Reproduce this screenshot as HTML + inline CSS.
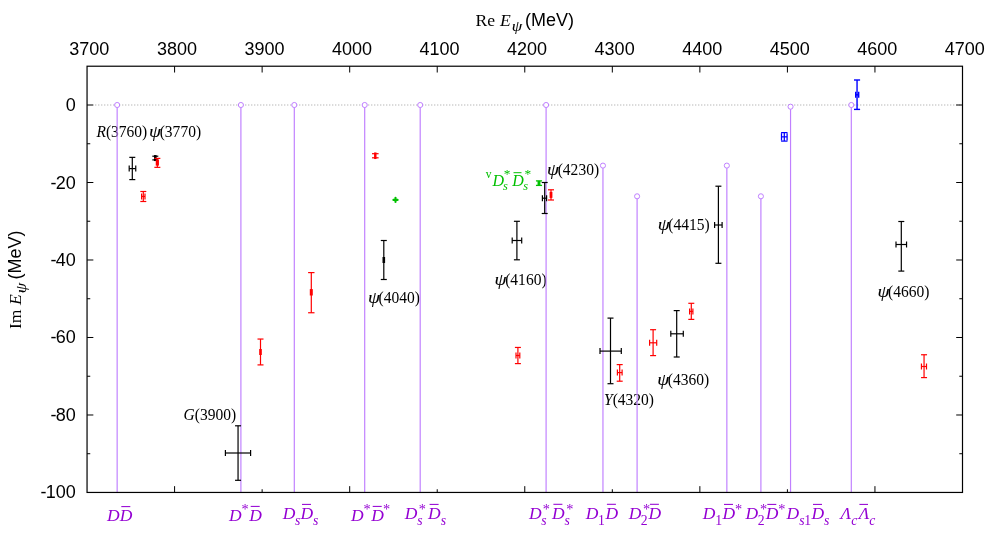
<!DOCTYPE html>
<html lang="en">
<head>
<meta charset="utf-8">
<title>Pole positions of vector charmonium(-like) states</title>
<style>
html, body { margin: 0; padding: 0; background: #ffffff; }
body { width: 987px; height: 536px; overflow: hidden; font-family: "Liberation Sans", sans-serif; }
svg { display: block; will-change: transform; }
text { white-space: pre; }
</style>
</head>
<body>
<svg width="987" height="536" viewBox="0 0 987 536">
<rect x="0" y="0" width="987" height="536" fill="#ffffff"/>
<text transform="translate(96.40 136.60) scale(0.958 1)" font-family='"Liberation Serif", serif' font-size="16.2" fill="#000000"><tspan font-style="italic">R</tspan>(3760)</text>
<text transform="translate(149.10 136.60) scale(1.17 1)" font-family='"Liberation Serif", serif' font-style="italic" font-size="16.6" fill="#000000" stroke="#000000" stroke-width="0.08">ψ</text>
<text transform="translate(159.70 136.60) scale(0.958 1)" font-family='"Liberation Serif", serif' font-size="16.2" fill="#000000">(3770)</text>
<text transform="translate(183.50 420.20) scale(0.958 1)" font-family='"Liberation Serif", serif' font-size="16.2" fill="#000000"><tspan font-style="italic">G</tspan>(3900)</text>
<text transform="translate(367.90 303.40) scale(1.17 1)" font-family='"Liberation Serif", serif' font-style="italic" font-size="16.6" fill="#000000" stroke="#000000" stroke-width="0.08">ψ</text>
<text transform="translate(378.50 303.40) scale(0.958 1)" font-family='"Liberation Serif", serif' font-size="16.2" fill="#000000">(4040)</text>
<text transform="translate(494.60 285.10) scale(1.17 1)" font-family='"Liberation Serif", serif' font-style="italic" font-size="16.6" fill="#000000" stroke="#000000" stroke-width="0.08">ψ</text>
<text transform="translate(505.20 285.10) scale(0.958 1)" font-family='"Liberation Serif", serif' font-size="16.2" fill="#000000">(4160)</text>
<text transform="translate(547.10 175.20) scale(1.17 1)" font-family='"Liberation Serif", serif' font-style="italic" font-size="16.6" fill="#000000" stroke="#000000" stroke-width="0.08">ψ</text>
<text transform="translate(557.70 175.20) scale(0.958 1)" font-family='"Liberation Serif", serif' font-size="16.2" fill="#000000">(4230)</text>
<text transform="translate(604.00 404.70) scale(0.958 1)" font-family='"Liberation Serif", serif' font-size="16.2" fill="#000000"><tspan font-style="italic">Y</tspan>(4320)</text>
<text transform="translate(657.20 385.10) scale(1.17 1)" font-family='"Liberation Serif", serif' font-style="italic" font-size="16.6" fill="#000000" stroke="#000000" stroke-width="0.08">ψ</text>
<text transform="translate(667.80 385.10) scale(0.958 1)" font-family='"Liberation Serif", serif' font-size="16.2" fill="#000000">(4360)</text>
<text transform="translate(657.70 230.40) scale(1.17 1)" font-family='"Liberation Serif", serif' font-style="italic" font-size="16.6" fill="#000000" stroke="#000000" stroke-width="0.08">ψ</text>
<text transform="translate(668.30 230.40) scale(0.958 1)" font-family='"Liberation Serif", serif' font-size="16.2" fill="#000000">(4415)</text>
<text transform="translate(877.50 296.70) scale(1.17 1)" font-family='"Liberation Serif", serif' font-style="italic" font-size="16.6" fill="#000000" stroke="#000000" stroke-width="0.08">ψ</text>
<text transform="translate(888.10 296.70) scale(0.958 1)" font-family='"Liberation Serif", serif' font-size="16.2" fill="#000000">(4660)</text>
<line x1="95.05" y1="105.00" x2="962.50" y2="105.00" stroke="#b4b4b4" stroke-width="1.1" stroke-dasharray="1.3 1.7"/>
<line x1="117.15" y1="105.00" x2="117.15" y2="492.45" stroke="#c080ff" stroke-width="1.18" />
<line x1="240.90" y1="105.00" x2="240.90" y2="492.45" stroke="#c080ff" stroke-width="1.18" />
<line x1="294.30" y1="105.00" x2="294.30" y2="492.45" stroke="#c080ff" stroke-width="1.18" />
<line x1="364.70" y1="105.00" x2="364.70" y2="492.45" stroke="#c080ff" stroke-width="1.18" />
<line x1="420.20" y1="105.00" x2="420.20" y2="492.45" stroke="#c080ff" stroke-width="1.18" />
<line x1="546.10" y1="105.00" x2="546.10" y2="492.45" stroke="#c080ff" stroke-width="1.18" />
<line x1="602.95" y1="165.60" x2="602.95" y2="492.45" stroke="#c080ff" stroke-width="1.18" />
<line x1="637.10" y1="196.30" x2="637.10" y2="492.45" stroke="#c080ff" stroke-width="1.18" />
<line x1="726.85" y1="165.60" x2="726.85" y2="492.45" stroke="#c080ff" stroke-width="1.18" />
<line x1="760.90" y1="196.30" x2="760.90" y2="492.45" stroke="#c080ff" stroke-width="1.18" />
<line x1="790.55" y1="106.70" x2="790.55" y2="492.45" stroke="#c080ff" stroke-width="1.18" />
<line x1="851.30" y1="105.00" x2="851.30" y2="492.45" stroke="#c080ff" stroke-width="1.18" />
<circle cx="117.15" cy="105.00" r="2.55" fill="#ffffff" stroke="#c080ff" stroke-width="1"/>
<circle cx="240.90" cy="105.00" r="2.55" fill="#ffffff" stroke="#c080ff" stroke-width="1"/>
<circle cx="294.30" cy="105.00" r="2.55" fill="#ffffff" stroke="#c080ff" stroke-width="1"/>
<circle cx="364.70" cy="105.00" r="2.55" fill="#ffffff" stroke="#c080ff" stroke-width="1"/>
<circle cx="420.20" cy="105.00" r="2.55" fill="#ffffff" stroke="#c080ff" stroke-width="1"/>
<circle cx="546.10" cy="105.00" r="2.55" fill="#ffffff" stroke="#c080ff" stroke-width="1"/>
<circle cx="602.95" cy="165.60" r="2.55" fill="#ffffff" stroke="#c080ff" stroke-width="1"/>
<circle cx="637.10" cy="196.30" r="2.55" fill="#ffffff" stroke="#c080ff" stroke-width="1"/>
<circle cx="726.85" cy="165.60" r="2.55" fill="#ffffff" stroke="#c080ff" stroke-width="1"/>
<circle cx="760.90" cy="196.30" r="2.55" fill="#ffffff" stroke="#c080ff" stroke-width="1"/>
<circle cx="790.55" cy="106.70" r="2.55" fill="#ffffff" stroke="#c080ff" stroke-width="1"/>
<circle cx="851.30" cy="105.00" r="2.55" fill="#ffffff" stroke="#c080ff" stroke-width="1"/>
<line x1="132.30" y1="157.35" x2="132.30" y2="179.60" stroke="#000000" stroke-width="1.2" />
<line x1="129.30" y1="157.35" x2="135.30" y2="157.35" stroke="#000000" stroke-width="1.2" />
<line x1="129.30" y1="179.60" x2="135.30" y2="179.60" stroke="#000000" stroke-width="1.2" />
<line x1="129.20" y1="168.60" x2="135.75" y2="168.60" stroke="#000000" stroke-width="1.2" />
<line x1="129.20" y1="165.60" x2="129.20" y2="171.60" stroke="#000000" stroke-width="1.2" />
<line x1="135.75" y1="165.60" x2="135.75" y2="171.60" stroke="#000000" stroke-width="1.2" />
<line x1="155.30" y1="156.20" x2="155.30" y2="159.90" stroke="#000000" stroke-width="1.2" />
<line x1="152.30" y1="156.20" x2="158.30" y2="156.20" stroke="#000000" stroke-width="1.2" />
<line x1="152.30" y1="159.90" x2="158.30" y2="159.90" stroke="#000000" stroke-width="1.2" />
<line x1="155.30" y1="155.05" x2="155.30" y2="161.05" stroke="#000000" stroke-width="2.6" />
<line x1="238.05" y1="425.80" x2="238.05" y2="480.30" stroke="#000000" stroke-width="1.2" />
<line x1="235.05" y1="425.80" x2="241.05" y2="425.80" stroke="#000000" stroke-width="1.2" />
<line x1="235.05" y1="480.30" x2="241.05" y2="480.30" stroke="#000000" stroke-width="1.2" />
<line x1="225.40" y1="453.00" x2="250.60" y2="453.00" stroke="#000000" stroke-width="1.2" />
<line x1="225.40" y1="450.00" x2="225.40" y2="456.00" stroke="#000000" stroke-width="1.2" />
<line x1="250.60" y1="450.00" x2="250.60" y2="456.00" stroke="#000000" stroke-width="1.2" />
<line x1="383.80" y1="240.50" x2="383.80" y2="279.50" stroke="#000000" stroke-width="1.2" />
<line x1="380.80" y1="240.50" x2="386.80" y2="240.50" stroke="#000000" stroke-width="1.2" />
<line x1="380.80" y1="279.50" x2="386.80" y2="279.50" stroke="#000000" stroke-width="1.2" />
<line x1="383.80" y1="257.00" x2="383.80" y2="263.00" stroke="#000000" stroke-width="2.6" />
<line x1="516.90" y1="221.30" x2="516.90" y2="259.80" stroke="#000000" stroke-width="1.2" />
<line x1="513.90" y1="221.30" x2="519.90" y2="221.30" stroke="#000000" stroke-width="1.2" />
<line x1="513.90" y1="259.80" x2="519.90" y2="259.80" stroke="#000000" stroke-width="1.2" />
<line x1="512.20" y1="240.50" x2="521.70" y2="240.50" stroke="#000000" stroke-width="1.2" />
<line x1="512.20" y1="237.50" x2="512.20" y2="243.50" stroke="#000000" stroke-width="1.2" />
<line x1="521.70" y1="237.50" x2="521.70" y2="243.50" stroke="#000000" stroke-width="1.2" />
<line x1="544.70" y1="182.50" x2="544.70" y2="213.50" stroke="#000000" stroke-width="1.2" />
<line x1="541.70" y1="182.50" x2="547.70" y2="182.50" stroke="#000000" stroke-width="1.2" />
<line x1="541.70" y1="213.50" x2="547.70" y2="213.50" stroke="#000000" stroke-width="1.2" />
<line x1="542.40" y1="198.20" x2="546.60" y2="198.20" stroke="#000000" stroke-width="1.2" />
<line x1="542.40" y1="195.20" x2="542.40" y2="201.20" stroke="#000000" stroke-width="1.2" />
<line x1="546.60" y1="195.20" x2="546.60" y2="201.20" stroke="#000000" stroke-width="1.2" />
<line x1="610.50" y1="318.10" x2="610.50" y2="383.70" stroke="#000000" stroke-width="1.2" />
<line x1="607.50" y1="318.10" x2="613.50" y2="318.10" stroke="#000000" stroke-width="1.2" />
<line x1="607.50" y1="383.70" x2="613.50" y2="383.70" stroke="#000000" stroke-width="1.2" />
<line x1="600.00" y1="351.10" x2="621.30" y2="351.10" stroke="#000000" stroke-width="1.2" />
<line x1="600.00" y1="348.10" x2="600.00" y2="354.10" stroke="#000000" stroke-width="1.2" />
<line x1="621.30" y1="348.10" x2="621.30" y2="354.10" stroke="#000000" stroke-width="1.2" />
<line x1="676.70" y1="310.60" x2="676.70" y2="357.00" stroke="#000000" stroke-width="1.2" />
<line x1="673.70" y1="310.60" x2="679.70" y2="310.60" stroke="#000000" stroke-width="1.2" />
<line x1="673.70" y1="357.00" x2="679.70" y2="357.00" stroke="#000000" stroke-width="1.2" />
<line x1="670.80" y1="333.80" x2="683.30" y2="333.80" stroke="#000000" stroke-width="1.2" />
<line x1="670.80" y1="330.80" x2="670.80" y2="336.80" stroke="#000000" stroke-width="1.2" />
<line x1="683.30" y1="330.80" x2="683.30" y2="336.80" stroke="#000000" stroke-width="1.2" />
<line x1="718.40" y1="186.20" x2="718.40" y2="263.30" stroke="#000000" stroke-width="1.2" />
<line x1="715.40" y1="186.20" x2="721.40" y2="186.20" stroke="#000000" stroke-width="1.2" />
<line x1="715.40" y1="263.30" x2="721.40" y2="263.30" stroke="#000000" stroke-width="1.2" />
<line x1="714.60" y1="225.00" x2="722.10" y2="225.00" stroke="#000000" stroke-width="1.2" />
<line x1="714.60" y1="222.00" x2="714.60" y2="228.00" stroke="#000000" stroke-width="1.2" />
<line x1="722.10" y1="222.00" x2="722.10" y2="228.00" stroke="#000000" stroke-width="1.2" />
<line x1="901.30" y1="221.50" x2="901.30" y2="271.10" stroke="#000000" stroke-width="1.2" />
<line x1="898.30" y1="221.50" x2="904.30" y2="221.50" stroke="#000000" stroke-width="1.2" />
<line x1="898.30" y1="271.10" x2="904.30" y2="271.10" stroke="#000000" stroke-width="1.2" />
<line x1="896.00" y1="244.50" x2="906.55" y2="244.50" stroke="#000000" stroke-width="1.2" />
<line x1="896.00" y1="241.50" x2="896.00" y2="247.50" stroke="#000000" stroke-width="1.2" />
<line x1="906.55" y1="241.50" x2="906.55" y2="247.50" stroke="#000000" stroke-width="1.2" />
<line x1="143.30" y1="191.50" x2="143.30" y2="201.50" stroke="#ff0000" stroke-width="1.2" />
<line x1="140.30" y1="191.50" x2="146.30" y2="191.50" stroke="#ff0000" stroke-width="1.2" />
<line x1="140.30" y1="201.50" x2="146.30" y2="201.50" stroke="#ff0000" stroke-width="1.2" />
<line x1="141.60" y1="196.45" x2="145.00" y2="196.45" stroke="#ff0000" stroke-width="1.2" />
<line x1="141.60" y1="193.45" x2="141.60" y2="199.45" stroke="#ff0000" stroke-width="1.2" />
<line x1="145.00" y1="193.45" x2="145.00" y2="199.45" stroke="#ff0000" stroke-width="1.2" />
<line x1="157.35" y1="158.40" x2="157.35" y2="167.35" stroke="#ff0000" stroke-width="1.2" />
<line x1="154.35" y1="158.40" x2="160.35" y2="158.40" stroke="#ff0000" stroke-width="1.2" />
<line x1="154.35" y1="167.35" x2="160.35" y2="167.35" stroke="#ff0000" stroke-width="1.2" />
<line x1="157.35" y1="159.60" x2="157.35" y2="165.60" stroke="#ff0000" stroke-width="3.2" />
<line x1="260.50" y1="339.05" x2="260.50" y2="364.90" stroke="#ff0000" stroke-width="1.2" />
<line x1="257.50" y1="339.05" x2="263.50" y2="339.05" stroke="#ff0000" stroke-width="1.2" />
<line x1="257.50" y1="364.90" x2="263.50" y2="364.90" stroke="#ff0000" stroke-width="1.2" />
<line x1="260.50" y1="349.00" x2="260.50" y2="355.00" stroke="#ff0000" stroke-width="2.6" />
<line x1="311.30" y1="272.60" x2="311.30" y2="312.75" stroke="#ff0000" stroke-width="1.2" />
<line x1="308.10" y1="272.60" x2="314.50" y2="272.60" stroke="#ff0000" stroke-width="1.2" />
<line x1="308.10" y1="312.75" x2="314.50" y2="312.75" stroke="#ff0000" stroke-width="1.2" />
<line x1="311.30" y1="289.10" x2="311.30" y2="295.50" stroke="#ff0000" stroke-width="3.0" />
<line x1="375.30" y1="153.70" x2="375.30" y2="157.80" stroke="#ff0000" stroke-width="1.2" />
<line x1="372.00" y1="153.70" x2="378.60" y2="153.70" stroke="#ff0000" stroke-width="1.2" />
<line x1="372.00" y1="157.80" x2="378.60" y2="157.80" stroke="#ff0000" stroke-width="1.2" />
<line x1="375.30" y1="152.45" x2="375.30" y2="159.05" stroke="#ff0000" stroke-width="2.4" />
<line x1="517.90" y1="347.45" x2="517.90" y2="363.60" stroke="#ff0000" stroke-width="1.2" />
<line x1="514.90" y1="347.45" x2="520.90" y2="347.45" stroke="#ff0000" stroke-width="1.2" />
<line x1="514.90" y1="363.60" x2="520.90" y2="363.60" stroke="#ff0000" stroke-width="1.2" />
<line x1="516.00" y1="355.50" x2="519.80" y2="355.50" stroke="#ff0000" stroke-width="1.2" />
<line x1="516.00" y1="352.50" x2="516.00" y2="358.50" stroke="#ff0000" stroke-width="1.2" />
<line x1="519.80" y1="352.50" x2="519.80" y2="358.50" stroke="#ff0000" stroke-width="1.2" />
<line x1="551.00" y1="189.80" x2="551.00" y2="200.00" stroke="#ff0000" stroke-width="1.2" />
<line x1="548.00" y1="189.80" x2="554.00" y2="189.80" stroke="#ff0000" stroke-width="1.2" />
<line x1="548.00" y1="200.00" x2="554.00" y2="200.00" stroke="#ff0000" stroke-width="1.2" />
<line x1="551.00" y1="191.90" x2="551.00" y2="197.90" stroke="#ff0000" stroke-width="2.8" />
<line x1="619.70" y1="364.60" x2="619.70" y2="381.20" stroke="#ff0000" stroke-width="1.2" />
<line x1="616.70" y1="364.60" x2="622.70" y2="364.60" stroke="#ff0000" stroke-width="1.2" />
<line x1="616.70" y1="381.20" x2="622.70" y2="381.20" stroke="#ff0000" stroke-width="1.2" />
<line x1="617.40" y1="372.60" x2="622.10" y2="372.60" stroke="#ff0000" stroke-width="1.2" />
<line x1="617.40" y1="369.60" x2="617.40" y2="375.60" stroke="#ff0000" stroke-width="1.2" />
<line x1="622.10" y1="369.60" x2="622.10" y2="375.60" stroke="#ff0000" stroke-width="1.2" />
<line x1="653.10" y1="329.70" x2="653.10" y2="355.60" stroke="#ff0000" stroke-width="1.2" />
<line x1="650.10" y1="329.70" x2="656.10" y2="329.70" stroke="#ff0000" stroke-width="1.2" />
<line x1="650.10" y1="355.60" x2="656.10" y2="355.60" stroke="#ff0000" stroke-width="1.2" />
<line x1="649.60" y1="342.80" x2="656.70" y2="342.80" stroke="#ff0000" stroke-width="1.2" />
<line x1="649.60" y1="339.80" x2="649.60" y2="345.80" stroke="#ff0000" stroke-width="1.2" />
<line x1="656.70" y1="339.80" x2="656.70" y2="345.80" stroke="#ff0000" stroke-width="1.2" />
<line x1="691.30" y1="303.30" x2="691.30" y2="319.40" stroke="#ff0000" stroke-width="1.2" />
<line x1="688.30" y1="303.30" x2="694.30" y2="303.30" stroke="#ff0000" stroke-width="1.2" />
<line x1="688.30" y1="319.40" x2="694.30" y2="319.40" stroke="#ff0000" stroke-width="1.2" />
<line x1="689.60" y1="311.40" x2="692.90" y2="311.40" stroke="#ff0000" stroke-width="1.2" />
<line x1="689.60" y1="308.40" x2="689.60" y2="314.40" stroke="#ff0000" stroke-width="1.2" />
<line x1="692.90" y1="308.40" x2="692.90" y2="314.40" stroke="#ff0000" stroke-width="1.2" />
<line x1="924.05" y1="354.75" x2="924.05" y2="377.60" stroke="#ff0000" stroke-width="1.2" />
<line x1="921.05" y1="354.75" x2="927.05" y2="354.75" stroke="#ff0000" stroke-width="1.2" />
<line x1="921.05" y1="377.60" x2="927.05" y2="377.60" stroke="#ff0000" stroke-width="1.2" />
<line x1="921.45" y1="366.50" x2="926.50" y2="366.50" stroke="#ff0000" stroke-width="1.2" />
<line x1="921.45" y1="363.50" x2="921.45" y2="369.50" stroke="#ff0000" stroke-width="1.2" />
<line x1="926.50" y1="363.50" x2="926.50" y2="369.50" stroke="#ff0000" stroke-width="1.2" />
<line x1="539.00" y1="180.90" x2="539.00" y2="185.40" stroke="#00c000" stroke-width="1.3" />
<line x1="535.95" y1="180.90" x2="542.05" y2="180.90" stroke="#00c000" stroke-width="1.3" />
<line x1="535.95" y1="185.40" x2="542.05" y2="185.40" stroke="#00c000" stroke-width="1.3" />
<line x1="539.00" y1="180.90" x2="539.00" y2="185.40" stroke="#00c000" stroke-width="2.9" />
<line x1="393.40" y1="199.90" x2="397.60" y2="199.90" stroke="#00c000" stroke-width="2.1" stroke-linecap="round"/>
<line x1="395.50" y1="197.80" x2="395.50" y2="202.00" stroke="#00c000" stroke-width="2.1" stroke-linecap="round"/>
<line x1="784.30" y1="132.60" x2="784.30" y2="141.10" stroke="#0000ff" stroke-width="1.25" />
<line x1="781.10" y1="132.60" x2="787.50" y2="132.60" stroke="#0000ff" stroke-width="1.25" />
<line x1="781.10" y1="141.10" x2="787.50" y2="141.10" stroke="#0000ff" stroke-width="1.25" />
<line x1="781.50" y1="136.85" x2="787.10" y2="136.85" stroke="#0000ff" stroke-width="1.25" />
<line x1="781.50" y1="133.15" x2="781.50" y2="140.55" stroke="#0000ff" stroke-width="1.25" />
<line x1="787.10" y1="133.15" x2="787.10" y2="140.55" stroke="#0000ff" stroke-width="1.25" />
<line x1="857.05" y1="80.00" x2="857.05" y2="109.40" stroke="#0000ff" stroke-width="1.4" />
<line x1="854.00" y1="80.00" x2="860.10" y2="80.00" stroke="#0000ff" stroke-width="1.4" />
<line x1="854.00" y1="109.40" x2="860.10" y2="109.40" stroke="#0000ff" stroke-width="1.4" />
<line x1="855.70" y1="94.80" x2="858.70" y2="94.80" stroke="#0000ff" stroke-width="1.4" />
<line x1="855.70" y1="91.75" x2="855.70" y2="97.85" stroke="#0000ff" stroke-width="1.4" />
<line x1="858.70" y1="91.75" x2="858.70" y2="97.85" stroke="#0000ff" stroke-width="1.4" />
<rect x="87.05" y="66.22" width="875.45" height="426.23" fill="none" stroke="#000" stroke-width="1.2"/>
<line x1="174.59" y1="66.22" x2="174.59" y2="72.52" stroke="#000" stroke-width="1.0" />
<line x1="174.59" y1="492.45" x2="174.59" y2="486.15" stroke="#000" stroke-width="1.0" />
<line x1="262.14" y1="66.22" x2="262.14" y2="72.52" stroke="#000" stroke-width="1.0" />
<line x1="262.14" y1="492.45" x2="262.14" y2="489.25" stroke="#000" stroke-width="1.0" />
<line x1="349.69" y1="66.22" x2="349.69" y2="72.52" stroke="#000" stroke-width="1.0" />
<line x1="349.69" y1="492.45" x2="349.69" y2="486.15" stroke="#000" stroke-width="1.0" />
<line x1="437.23" y1="66.22" x2="437.23" y2="72.52" stroke="#000" stroke-width="1.0" />
<line x1="437.23" y1="492.45" x2="437.23" y2="489.25" stroke="#000" stroke-width="1.0" />
<line x1="524.77" y1="66.22" x2="524.77" y2="72.52" stroke="#000" stroke-width="1.0" />
<line x1="524.77" y1="492.45" x2="524.77" y2="486.15" stroke="#000" stroke-width="1.0" />
<line x1="612.32" y1="66.22" x2="612.32" y2="72.52" stroke="#000" stroke-width="1.0" />
<line x1="612.32" y1="492.45" x2="612.32" y2="489.25" stroke="#000" stroke-width="1.0" />
<line x1="699.87" y1="66.22" x2="699.87" y2="72.52" stroke="#000" stroke-width="1.0" />
<line x1="699.87" y1="492.45" x2="699.87" y2="486.15" stroke="#000" stroke-width="1.0" />
<line x1="787.41" y1="66.22" x2="787.41" y2="72.52" stroke="#000" stroke-width="1.0" />
<line x1="787.41" y1="492.45" x2="787.41" y2="489.25" stroke="#000" stroke-width="1.0" />
<line x1="874.95" y1="66.22" x2="874.95" y2="72.52" stroke="#000" stroke-width="1.0" />
<line x1="874.95" y1="492.45" x2="874.95" y2="486.15" stroke="#000" stroke-width="1.0" />
<line x1="87.05" y1="105.00" x2="93.35" y2="105.00" stroke="#000" stroke-width="1.0" />
<line x1="962.50" y1="105.00" x2="956.20" y2="105.00" stroke="#000" stroke-width="1.0" />
<line x1="87.05" y1="143.75" x2="90.25" y2="143.75" stroke="#000" stroke-width="1.0" />
<line x1="962.50" y1="143.75" x2="959.30" y2="143.75" stroke="#000" stroke-width="1.0" />
<line x1="87.05" y1="182.50" x2="93.35" y2="182.50" stroke="#000" stroke-width="1.0" />
<line x1="962.50" y1="182.50" x2="956.20" y2="182.50" stroke="#000" stroke-width="1.0" />
<line x1="87.05" y1="221.24" x2="90.25" y2="221.24" stroke="#000" stroke-width="1.0" />
<line x1="962.50" y1="221.24" x2="959.30" y2="221.24" stroke="#000" stroke-width="1.0" />
<line x1="87.05" y1="259.99" x2="93.35" y2="259.99" stroke="#000" stroke-width="1.0" />
<line x1="962.50" y1="259.99" x2="956.20" y2="259.99" stroke="#000" stroke-width="1.0" />
<line x1="87.05" y1="298.74" x2="90.25" y2="298.74" stroke="#000" stroke-width="1.0" />
<line x1="962.50" y1="298.74" x2="959.30" y2="298.74" stroke="#000" stroke-width="1.0" />
<line x1="87.05" y1="337.49" x2="93.35" y2="337.49" stroke="#000" stroke-width="1.0" />
<line x1="962.50" y1="337.49" x2="956.20" y2="337.49" stroke="#000" stroke-width="1.0" />
<line x1="87.05" y1="376.24" x2="90.25" y2="376.24" stroke="#000" stroke-width="1.0" />
<line x1="962.50" y1="376.24" x2="959.30" y2="376.24" stroke="#000" stroke-width="1.0" />
<line x1="87.05" y1="414.99" x2="93.35" y2="414.99" stroke="#000" stroke-width="1.0" />
<line x1="962.50" y1="414.99" x2="956.20" y2="414.99" stroke="#000" stroke-width="1.0" />
<line x1="87.05" y1="453.73" x2="90.25" y2="453.73" stroke="#000" stroke-width="1.0" />
<line x1="962.50" y1="453.73" x2="959.30" y2="453.73" stroke="#000" stroke-width="1.0" />
<text x="89.35" y="54.6" text-anchor="middle" font-family='"Liberation Sans", sans-serif' font-size="18.0" fill="#000">3700</text>
<text x="176.90" y="54.6" text-anchor="middle" font-family='"Liberation Sans", sans-serif' font-size="18.0" fill="#000">3800</text>
<text x="264.44" y="54.6" text-anchor="middle" font-family='"Liberation Sans", sans-serif' font-size="18.0" fill="#000">3900</text>
<text x="351.99" y="54.6" text-anchor="middle" font-family='"Liberation Sans", sans-serif' font-size="18.0" fill="#000">4000</text>
<text x="439.53" y="54.6" text-anchor="middle" font-family='"Liberation Sans", sans-serif' font-size="18.0" fill="#000">4100</text>
<text x="527.07" y="54.6" text-anchor="middle" font-family='"Liberation Sans", sans-serif' font-size="18.0" fill="#000">4200</text>
<text x="614.62" y="54.6" text-anchor="middle" font-family='"Liberation Sans", sans-serif' font-size="18.0" fill="#000">4300</text>
<text x="702.16" y="54.6" text-anchor="middle" font-family='"Liberation Sans", sans-serif' font-size="18.0" fill="#000">4400</text>
<text x="789.71" y="54.6" text-anchor="middle" font-family='"Liberation Sans", sans-serif' font-size="18.0" fill="#000">4500</text>
<text x="877.25" y="54.6" text-anchor="middle" font-family='"Liberation Sans", sans-serif' font-size="18.0" fill="#000">4600</text>
<text x="964.80" y="54.6" text-anchor="middle" font-family='"Liberation Sans", sans-serif' font-size="18.0" fill="#000">4700</text>
<text x="75.8" y="111.00" text-anchor="end" font-family='"Liberation Sans", sans-serif' font-size="18.0" fill="#000">0</text>
<text x="75.8" y="188.50" text-anchor="end" font-family='"Liberation Sans", sans-serif' font-size="18.0" fill="#000">20</text>
<text x="56.38" y="188.50" text-anchor="end" font-family='"Liberation Sans", sans-serif' font-size="18.0" fill="#000">-</text>
<text x="75.8" y="265.99" text-anchor="end" font-family='"Liberation Sans", sans-serif' font-size="18.0" fill="#000">40</text>
<text x="56.38" y="265.99" text-anchor="end" font-family='"Liberation Sans", sans-serif' font-size="18.0" fill="#000">-</text>
<text x="75.8" y="343.49" text-anchor="end" font-family='"Liberation Sans", sans-serif' font-size="18.0" fill="#000">60</text>
<text x="56.38" y="343.49" text-anchor="end" font-family='"Liberation Sans", sans-serif' font-size="18.0" fill="#000">-</text>
<text x="75.8" y="420.99" text-anchor="end" font-family='"Liberation Sans", sans-serif' font-size="18.0" fill="#000">80</text>
<text x="56.38" y="420.99" text-anchor="end" font-family='"Liberation Sans", sans-serif' font-size="18.0" fill="#000">-</text>
<text x="75.8" y="498.48" text-anchor="end" font-family='"Liberation Sans", sans-serif' font-size="18.0" fill="#000">100</text>
<text x="46.38" y="498.48" text-anchor="end" font-family='"Liberation Sans", sans-serif' font-size="18.0" fill="#000">-</text>
<g transform="translate(475.5 26.0)"><text x="0" y="0" font-family='"Liberation Serif", serif' font-size="17.6" fill="#000">Re</text><text x="24.6" y="0" font-family='"Liberation Serif", serif' font-style="italic" font-size="17.6" fill="#000">E</text><text transform="translate(36.3 5.0) scale(1.15 1)" font-family='"Liberation Serif", serif' font-style="italic" font-size="14.6" fill="#000" stroke="#000" stroke-width="0.08">ψ</text><text x="49.6" y="0" font-family='"Liberation Sans", sans-serif' font-size="18" fill="#000">(MeV)</text></g>
<g transform="translate(20.5 329.0) rotate(-90)"><text x="0" y="0" font-family='"Liberation Serif", serif' font-size="17.6" fill="#000">Im</text><text x="23.9" y="0" font-family='"Liberation Serif", serif' font-style="italic" font-size="17.6" fill="#000">E</text><text transform="translate(35.8 5.0) scale(1.15 1)" font-family='"Liberation Serif", serif' font-style="italic" font-size="14.6" fill="#000" stroke="#000" stroke-width="0.08">ψ</text><text x="49.4" y="0" font-family='"Liberation Sans", sans-serif' font-size="18" fill="#000">(MeV)</text></g>
<text x="106.89" y="520.80" font-family='"Liberation Serif", serif' font-style="italic" font-size="17.5" fill="#9400d3">D</text>
<text x="119.79" y="520.80" font-family='"Liberation Serif", serif' font-style="italic" font-size="17.5" fill="#9400d3">D</text>
<line x1="121.30" y1="506.60" x2="130.30" y2="506.60" stroke="#9400d3" stroke-width="1.05" />
<text x="229.09" y="520.60" font-family='"Liberation Serif", serif' font-style="italic" font-size="17.5" fill="#9400d3">D</text>
<text x="241.40" y="513.90" font-family='"Liberation Serif", serif' font-style="normal" font-size="14.3" fill="#9400d3">*</text>
<text x="249.19" y="520.60" font-family='"Liberation Serif", serif' font-style="italic" font-size="17.5" fill="#9400d3">D</text>
<line x1="250.70" y1="506.40" x2="259.70" y2="506.40" stroke="#9400d3" stroke-width="1.05" />
<text x="282.69" y="518.60" font-family='"Liberation Serif", serif' font-style="italic" font-size="17.5" fill="#9400d3">D</text>
<text x="294.94" y="524.90" font-family='"Liberation Serif", serif' font-style="italic" font-size="13.7" fill="#9400d3">s</text>
<text x="300.49" y="518.60" font-family='"Liberation Serif", serif' font-style="italic" font-size="17.5" fill="#9400d3">D</text>
<line x1="302.00" y1="504.40" x2="311.00" y2="504.40" stroke="#9400d3" stroke-width="1.05" />
<text x="313.04" y="524.90" font-family='"Liberation Serif", serif' font-style="italic" font-size="13.7" fill="#9400d3">s</text>
<text x="351.09" y="520.60" font-family='"Liberation Serif", serif' font-style="italic" font-size="17.5" fill="#9400d3">D</text>
<text x="363.60" y="513.90" font-family='"Liberation Serif", serif' font-style="normal" font-size="14.3" fill="#9400d3">*</text>
<text x="371.19" y="520.60" font-family='"Liberation Serif", serif' font-style="italic" font-size="17.5" fill="#9400d3">D</text>
<line x1="372.70" y1="506.40" x2="381.70" y2="506.40" stroke="#9400d3" stroke-width="1.05" />
<text x="383.10" y="513.90" font-family='"Liberation Serif", serif' font-style="normal" font-size="14.3" fill="#9400d3">*</text>
<text x="404.69" y="518.60" font-family='"Liberation Serif", serif' font-style="italic" font-size="17.5" fill="#9400d3">D</text>
<text x="417.14" y="524.90" font-family='"Liberation Serif", serif' font-style="italic" font-size="13.7" fill="#9400d3">s</text>
<text x="418.80" y="513.90" font-family='"Liberation Serif", serif' font-style="normal" font-size="14.3" fill="#9400d3">*</text>
<text x="428.09" y="518.60" font-family='"Liberation Serif", serif' font-style="italic" font-size="17.5" fill="#9400d3">D</text>
<line x1="429.60" y1="504.40" x2="438.60" y2="504.40" stroke="#9400d3" stroke-width="1.05" />
<text x="440.84" y="524.90" font-family='"Liberation Serif", serif' font-style="italic" font-size="13.7" fill="#9400d3">s</text>
<text x="529.09" y="518.50" font-family='"Liberation Serif", serif' font-style="italic" font-size="17.5" fill="#9400d3">D</text>
<text x="541.24" y="524.80" font-family='"Liberation Serif", serif' font-style="italic" font-size="13.7" fill="#9400d3">s</text>
<text x="542.70" y="513.90" font-family='"Liberation Serif", serif' font-style="normal" font-size="14.3" fill="#9400d3">*</text>
<text x="551.89" y="518.50" font-family='"Liberation Serif", serif' font-style="italic" font-size="17.5" fill="#9400d3">D</text>
<line x1="553.40" y1="504.30" x2="562.40" y2="504.30" stroke="#9400d3" stroke-width="1.05" />
<text x="564.44" y="524.80" font-family='"Liberation Serif", serif' font-style="italic" font-size="13.7" fill="#9400d3">s</text>
<text x="566.20" y="513.90" font-family='"Liberation Serif", serif' font-style="normal" font-size="14.3" fill="#9400d3">*</text>
<text x="585.69" y="518.50" font-family='"Liberation Serif", serif' font-style="italic" font-size="17.5" fill="#9400d3">D</text>
<text x="597.89" y="524.80" font-family='"Liberation Serif", serif' font-style="normal" font-size="13.7" fill="#9400d3">1</text>
<text x="605.39" y="518.50" font-family='"Liberation Serif", serif' font-style="italic" font-size="17.5" fill="#9400d3">D</text>
<line x1="606.90" y1="504.30" x2="615.90" y2="504.30" stroke="#9400d3" stroke-width="1.05" />
<text x="628.69" y="518.50" font-family='"Liberation Serif", serif' font-style="italic" font-size="17.5" fill="#9400d3">D</text>
<text x="640.80" y="524.80" font-family='"Liberation Serif", serif' font-style="normal" font-size="13.7" fill="#9400d3">2</text>
<text x="643.00" y="513.90" font-family='"Liberation Serif", serif' font-style="normal" font-size="14.3" fill="#9400d3">*</text>
<text x="648.39" y="518.50" font-family='"Liberation Serif", serif' font-style="italic" font-size="17.5" fill="#9400d3">D</text>
<line x1="649.90" y1="504.30" x2="658.90" y2="504.30" stroke="#9400d3" stroke-width="1.05" />
<text x="702.69" y="518.60" font-family='"Liberation Serif", serif' font-style="italic" font-size="17.5" fill="#9400d3">D</text>
<text x="715.19" y="524.90" font-family='"Liberation Serif", serif' font-style="normal" font-size="13.7" fill="#9400d3">1</text>
<text x="722.49" y="518.60" font-family='"Liberation Serif", serif' font-style="italic" font-size="17.5" fill="#9400d3">D</text>
<line x1="724.00" y1="504.40" x2="733.00" y2="504.40" stroke="#9400d3" stroke-width="1.05" />
<text x="735.10" y="513.90" font-family='"Liberation Serif", serif' font-style="normal" font-size="14.3" fill="#9400d3">*</text>
<text x="745.59" y="518.60" font-family='"Liberation Serif", serif' font-style="italic" font-size="17.5" fill="#9400d3">D</text>
<text x="757.70" y="524.90" font-family='"Liberation Serif", serif' font-style="normal" font-size="13.7" fill="#9400d3">2</text>
<text x="759.90" y="513.90" font-family='"Liberation Serif", serif' font-style="normal" font-size="14.3" fill="#9400d3">*</text>
<text x="765.79" y="518.60" font-family='"Liberation Serif", serif' font-style="italic" font-size="17.5" fill="#9400d3">D</text>
<line x1="767.30" y1="504.40" x2="776.30" y2="504.40" stroke="#9400d3" stroke-width="1.05" />
<text x="778.20" y="513.90" font-family='"Liberation Serif", serif' font-style="normal" font-size="14.3" fill="#9400d3">*</text>
<text x="786.39" y="518.60" font-family='"Liberation Serif", serif' font-style="italic" font-size="17.5" fill="#9400d3">D</text>
<text x="799.14" y="524.90" font-family='"Liberation Serif", serif' font-style="italic" font-size="13.7" fill="#9400d3">s</text>
<text x="804.29" y="524.90" font-family='"Liberation Serif", serif' font-style="normal" font-size="13.7" fill="#9400d3">1</text>
<text x="811.49" y="518.60" font-family='"Liberation Serif", serif' font-style="italic" font-size="17.5" fill="#9400d3">D</text>
<line x1="813.00" y1="504.40" x2="822.00" y2="504.40" stroke="#9400d3" stroke-width="1.05" />
<text x="824.04" y="524.90" font-family='"Liberation Serif", serif' font-style="italic" font-size="13.7" fill="#9400d3">s</text>
<text x="840.56" y="518.60" font-family='"Liberation Serif", serif' font-style="italic" font-size="17.5" fill="#9400d3">Λ</text>
<text x="851.28" y="524.90" font-family='"Liberation Serif", serif' font-style="italic" font-size="13.7" fill="#9400d3">c</text>
<text x="858.87" y="518.60" font-family='"Liberation Serif", serif' font-style="italic" font-size="17.5" fill="#9400d3">Λ</text>
<line x1="859.40" y1="504.40" x2="868.00" y2="504.40" stroke="#9400d3" stroke-width="1.05" />
<text x="869.18" y="524.90" font-family='"Liberation Serif", serif' font-style="italic" font-size="13.7" fill="#9400d3">c</text>
<text x="492.38" y="185.80" font-family='"Liberation Serif", serif' font-style="italic" font-size="16.0" fill="#00c000">D</text>
<text x="503.05" y="190.20" font-family='"Liberation Serif", serif' font-style="italic" font-size="12.4" fill="#00c000">s</text>
<text x="503.74" y="177.90" font-family='"Liberation Serif", serif' font-style="normal" font-size="13.4" fill="#00c000">*</text>
<text x="512.18" y="185.80" font-family='"Liberation Serif", serif' font-style="italic" font-size="16.0" fill="#00c000">D</text>
<line x1="513.51" y1="172.70" x2="521.51" y2="172.70" stroke="#00c000" stroke-width="1.0" />
<text x="523.25" y="190.20" font-family='"Liberation Serif", serif' font-style="italic" font-size="12.4" fill="#00c000">s</text>
<text x="524.44" y="177.90" font-family='"Liberation Serif", serif' font-style="normal" font-size="13.4" fill="#00c000">*</text>
<text transform="translate(485.7 178.0) scale(0.9 1)" font-family='"Liberation Serif", serif' font-size="12.8" fill="#00c000">v</text>
</svg>
</body>
</html>
